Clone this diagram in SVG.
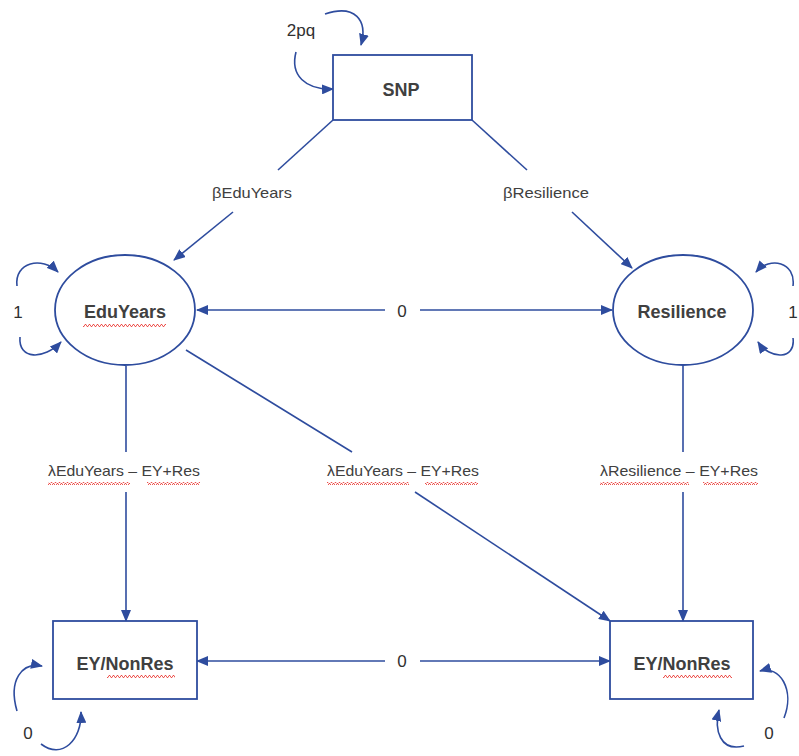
<svg xmlns="http://www.w3.org/2000/svg" width="799" height="756" viewBox="0 0 799 756">
<defs>
<marker id="ah" markerWidth="12" markerHeight="10" refX="11" refY="5" orient="auto" markerUnits="userSpaceOnUse">
<path d="M0,0 L12,5 L0,10 Z" fill="#2E4C9E"/>
</marker>
<pattern id="wave" width="4" height="3" patternUnits="userSpaceOnUse">
<polyline points="0,2.5 1,0.5 2,0.5 3,2.5 4,2.5" fill="none" stroke="#E8302A" stroke-width="0.8"/>
</pattern>
</defs>
<style>
.ln{fill:none;stroke:#2E4C9E;stroke-width:1.6}
.arr{marker-end:url(#ah)}
.nd{fill:#fff;stroke:#2E4C9E;stroke-width:1.8}
.nt{font-family:"Liberation Sans",Arial,sans-serif;font-weight:bold;font-size:18px;fill:#404040;text-anchor:middle;dominant-baseline:central}
.lb{font-family:"Liberation Sans",Arial,sans-serif;font-size:15px;fill:#404040;text-anchor:middle;dominant-baseline:central}
.lb2{font-family:"Liberation Sans",Arial,sans-serif;font-size:17px;fill:#303030;text-anchor:middle;dominant-baseline:central}
.sq{fill:url(#wave)}
</style>
<rect width="799" height="756" fill="#fff"/>

<g id="connectors">
<!-- SNP -> EduYears -->
<line class="ln" x1="333" y1="120" x2="278" y2="170"/>
<line class="ln arr" x1="233" y1="212" x2="174" y2="260"/>
<text class="lb" x="252" y="192" textLength="80" lengthAdjust="spacingAndGlyphs">βEduYears</text>
<!-- SNP -> Resilience -->
<line class="ln" x1="472" y1="120" x2="527" y2="170"/>
<line class="ln arr" x1="572" y1="212" x2="632" y2="268"/>
<text class="lb" x="546" y="192" textLength="86" lengthAdjust="spacingAndGlyphs">βResilience</text>
<!-- EduYears <-> Resilience -->
<line class="ln arr" x1="385" y1="310" x2="197" y2="310"/>
<line class="ln arr" x1="420" y1="310" x2="612" y2="310"/>
<text class="lb2" x="402" y="311">0</text>
<!-- EduYears -> EY/NonRes left -->
<line class="ln" x1="126" y1="366" x2="126" y2="452"/>
<line class="ln arr" x1="126" y1="492" x2="126" y2="621"/>
<text class="lb" x="124" y="470" textLength="152" lengthAdjust="spacingAndGlyphs">λEduYears – EY+Res</text>
<rect class="sq" x="48" y="482" width="82" height="3"/>
<rect class="sq" x="147" y="482" width="53" height="3"/>
<!-- EduYears -> EY/NonRes right -->
<line class="ln" x1="186" y1="350" x2="352" y2="452"/>
<line class="ln arr" x1="415" y1="492" x2="610" y2="621"/>
<text class="lb" x="403" y="470" textLength="152" lengthAdjust="spacingAndGlyphs">λEduYears – EY+Res</text>
<rect class="sq" x="327" y="482" width="82" height="3"/>
<rect class="sq" x="425" y="482" width="53" height="3"/>
<!-- Resilience -> EY/NonRes right -->
<line class="ln" x1="683" y1="366" x2="683" y2="452"/>
<line class="ln arr" x1="683" y1="492" x2="683" y2="621"/>
<text class="lb" x="679" y="470" textLength="158" lengthAdjust="spacingAndGlyphs">λResilience – EY+Res</text>
<rect class="sq" x="600" y="482" width="89" height="3"/>
<rect class="sq" x="703" y="482" width="55" height="3"/>
<!-- EY/NonRes <-> EY/NonRes -->
<line class="ln arr" x1="385" y1="661" x2="197" y2="661"/>
<line class="ln arr" x1="420" y1="661" x2="610" y2="661"/>
<text class="lb2" x="402" y="661">0</text>

<!-- SNP self loop -->
<path class="ln arr" d="M325,14 C355,4 368,20 361,45"/>
<path class="ln arr" d="M296,52 C290,75 305,90 333,89"/>
<text class="lb2" x="301" y="30">2pq</text>
<!-- EduYears self loop -->
<path class="ln arr" d="M17,286 C14,262 42,256 58,272"/>
<path class="ln arr" d="M20,337 C18,360 44,360 61,342"/>
<text class="lb2" x="18" y="312">1</text>
<!-- Resilience self loop -->
<path class="ln arr" d="M793,286 C796,262 770,256 756,272"/>
<path class="ln arr" d="M793,338 C796,360 770,360 758,342"/>
<text class="lb2" x="793" y="312">1</text>
<!-- EY/NonRes left self loop -->
<path class="ln arr" d="M17,711 C8,680 22,662 42,666"/>
<path class="ln arr" d="M41,744 C62,760 82,740 81,712"/>
<text class="lb2" x="28" y="733">0</text>
<!-- EY/NonRes right self loop -->
<path class="ln arr" d="M784,718 C795,690 780,665 760,671"/>
<path class="ln arr" d="M744,746 C720,752 714,730 719,710"/>
<text class="lb2" x="769" y="733">0</text>
</g>

<g id="SNP">
<rect class="nd" x="333" y="55" width="139" height="65"/>
<text class="nt" x="401" y="90">SNP</text>
</g>
<g id="EduYears">
<ellipse class="nd" cx="125" cy="310" rx="70" ry="55"/>
<text class="nt" x="125" y="312">EduYears</text>
<rect class="sq" x="83" y="324" width="83" height="3"/>
</g>
<g id="Resilience">
<ellipse class="nd" cx="683" cy="310" rx="70" ry="55"/>
<text class="nt" x="682" y="312">Resilience</text>
</g>
<g id="EYNonResLeft">
<rect class="nd" x="53" y="621" width="144" height="78"/>
<text class="nt" x="125" y="664">EY/NonRes</text>
<rect class="sq" x="107" y="675" width="68" height="3"/>
</g>
<g id="EYNonResRight">
<rect class="nd" x="610" y="621" width="143" height="78"/>
<text class="nt" x="682" y="664">EY/NonRes</text>
<rect class="sq" x="663" y="675" width="69" height="3"/>
</g>
</svg>
